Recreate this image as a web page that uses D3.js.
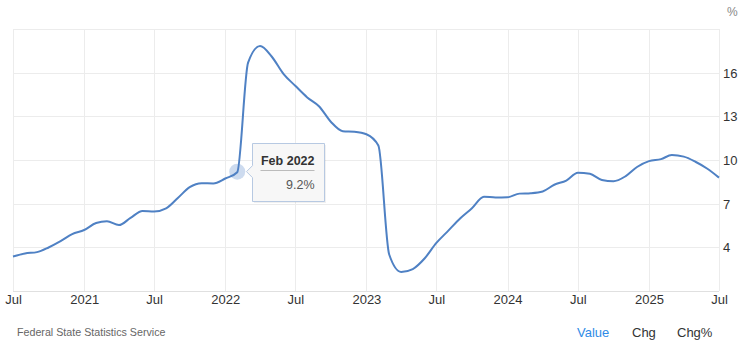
<!DOCTYPE html>
<html>
<head>
<meta charset="utf-8">
<script src="https://cdn.jsdelivr.net/npm/d3@7"></script>
<style>
  html, body { margin: 0; padding: 0; background: #fff; }
  svg { display: block; font-family: Arial, "Liberation Sans", sans-serif; }
</style>
</head>
<body>
<svg id="chart" width="743" height="340"></svg>
<script>
// ---- data ----
const startMonth = "2020-07";
const values = [
  3.37, 3.58, 3.67, 3.99, 4.42, 4.91,
  5.19, 5.67, 5.79, 5.53, 6.02, 6.50, 6.46, 6.68, 7.41, 8.13, 8.40, 8.39,
  8.73, 9.16, 16.69, 17.83, 17.11, 15.90, 15.10, 14.30, 13.68, 12.63, 11.98, 11.94,
  11.77, 10.99, 3.51, 2.31, 2.51, 3.25, 4.30, 5.15, 6.00, 6.69, 7.48, 7.42,
  7.44, 7.69, 7.72, 7.84, 8.30, 8.59, 9.13, 9.05, 8.63, 8.54, 8.88, 9.52,
  9.92, 10.06, 10.34, 10.23, 9.88, 9.40, 8.79
];
const xTickDates = ["2020-07","2021-01","2021-07","2022-01","2022-07","2023-01","2023-07","2024-01","2024-07","2025-01","2025-07"];
const xTickLabels = ["Jul","2021","Jul","2022","Jul","2023","Jul","2024","Jul","2025","Jul"];
const yTicks = [4, 7, 10, 13, 16];
const yDomain = [1, 19];
const highlight = { date: "2022-02", label: "Feb 2022", value: 9.2 };
const sourceText = "Federal State Statistics Service";
const tabs = ["Value", "Chg", "Chg%"];

// ---- build ----
(function () {
const parse = d3.utcParse("%Y-%m");
const start = parse(startMonth);
const data = values.map((v, i) => ({ date: d3.utcMonth.offset(start, i), value: v }));

const svg = d3.select("#chart");
const pL = 13, pR = 719, pT = 29, pB = 291;

const x = d3.scaleUtc()
  .domain([parse(xTickDates[0]), parse(xTickDates[xTickDates.length - 1])])
  .range([pL, pR]);
const y = d3.scaleLinear().domain(yDomain).range([pB, pT]);

const font = "Arial, 'Liberation Sans', sans-serif";

// horizontal grid
svg.append("g").selectAll("line").data(yTicks.concat([yDomain[1]])).join("line")
  .attr("x1", pL).attr("x2", pR)
  .attr("y1", d => Math.round(y(d)) + 0.5).attr("y2", d => Math.round(y(d)) + 0.5)
  .attr("stroke", "#ececec").attr("stroke-width", 1);

// vertical grid
svg.append("g").selectAll("line").data(xTickDates.map(parse)).join("line")
  .attr("x1", d => Math.round(x(d)) + 0.5).attr("x2", d => Math.round(x(d)) + 0.5)
  .attr("y1", pT).attr("y2", pB)
  .attr("stroke", "#ececec").attr("stroke-width", 1);

// bottom axis line
svg.append("line")
  .attr("x1", pL).attr("x2", pR)
  .attr("y1", pB + 0.5).attr("y2", pB + 0.5)
  .attr("stroke", "#e0e0e0");

// x axis labels
const xAxis = d3.axisBottom(x)
  .tickValues(xTickDates.map(parse))
  .tickFormat((d, i) => xTickLabels[i])
  .tickSize(0).tickPadding(0);
const xg = svg.append("g").attr("transform", `translate(0,${pB})`).call(xAxis);
xg.select(".domain").remove();
xg.selectAll("text")
  .attr("y", 13).attr("dy", 0)
  .attr("font-size", 13).attr("font-family", font).attr("fill", "#333");

// y axis labels
const yAxis = d3.axisRight(y).tickValues(yTicks).tickSize(0).tickPadding(0);
const yg = svg.append("g").attr("transform", `translate(${pR + 4},0)`).call(yAxis);
yg.select(".domain").remove();
yg.selectAll("text")
  .attr("x", 0).attr("dy", "0.35em")
  .attr("font-size", 13).attr("font-family", font).attr("fill", "#333");

// unit
svg.append("text").attr("x", 727).attr("y", 16)
  .attr("font-size", 12).attr("font-family", font).attr("fill", "#888").text("%");

// line
const line = d3.line().x(d => x(d.date)).y(d => y(d.value)).curve(d3.curveMonotoneX);
svg.append("path").datum(data)
  .attr("d", line)
  .attr("fill", "none").attr("stroke", "#4f81c4").attr("stroke-width", 2)
  .attr("stroke-linejoin", "round");

// highlight marker
const hx = x(parse(highlight.date)), hy = y(highlight.value);
svg.append("circle").attr("cx", hx).attr("cy", hy).attr("r", 8)
  .attr("fill", "#4a7ec4").attr("fill-opacity", 0.28);

// tooltip
const bx = 252.5, by = 143.5, bw = 72, bh = 58;
const tipY = hy;
const tipPath = `M${bx},${by} H${bx + bw} V${by + bh} H${bx} V${tipY + 6} L${bx - 6},${tipY} L${bx},${tipY - 6} Z`;
svg.append("path").attr("d", tipPath)
  .attr("transform", "translate(1.5,1.5)")
  .attr("fill", "rgba(0,0,0,0.06)");
svg.append("path").attr("d", tipPath)
  .attr("fill", "#f7f7f7").attr("stroke", "#b7c9e2").attr("stroke-width", 1);
svg.append("text").attr("x", bx + bw - 10).attr("y", 165)
  .attr("text-anchor", "end").attr("font-size", 12.5).attr("font-weight", "bold")
  .attr("font-family", font).attr("fill", "#333").text(highlight.label);
svg.append("line").attr("x1", bx + 8).attr("x2", bx + bw - 10)
  .attr("y1", 170.5).attr("y2", 170.5).attr("stroke", "#bbb");
svg.append("text").attr("x", bx + bw - 10).attr("y", 189)
  .attr("text-anchor", "end").attr("font-size", 12.5)
  .attr("font-family", font).attr("fill", "#555").text(highlight.value.toFixed(1) + "%");

// footer
svg.append("text").attr("x", 17).attr("y", 336)
  .attr("font-size", 10.7).attr("font-family", font).attr("fill", "#666").text(sourceText);
const tabX = [577, 632, 677];
const tabColors = ["#2f8be6", "#333", "#333"];
svg.append("g").selectAll("text").data(tabs).join("text")
  .attr("x", (d, i) => tabX[i]).attr("y", 337)
  .attr("font-size", 13).attr("font-family", font)
  .attr("fill", (d, i) => tabColors[i]).text(d => d);
})();
</script>
</body>
</html>
